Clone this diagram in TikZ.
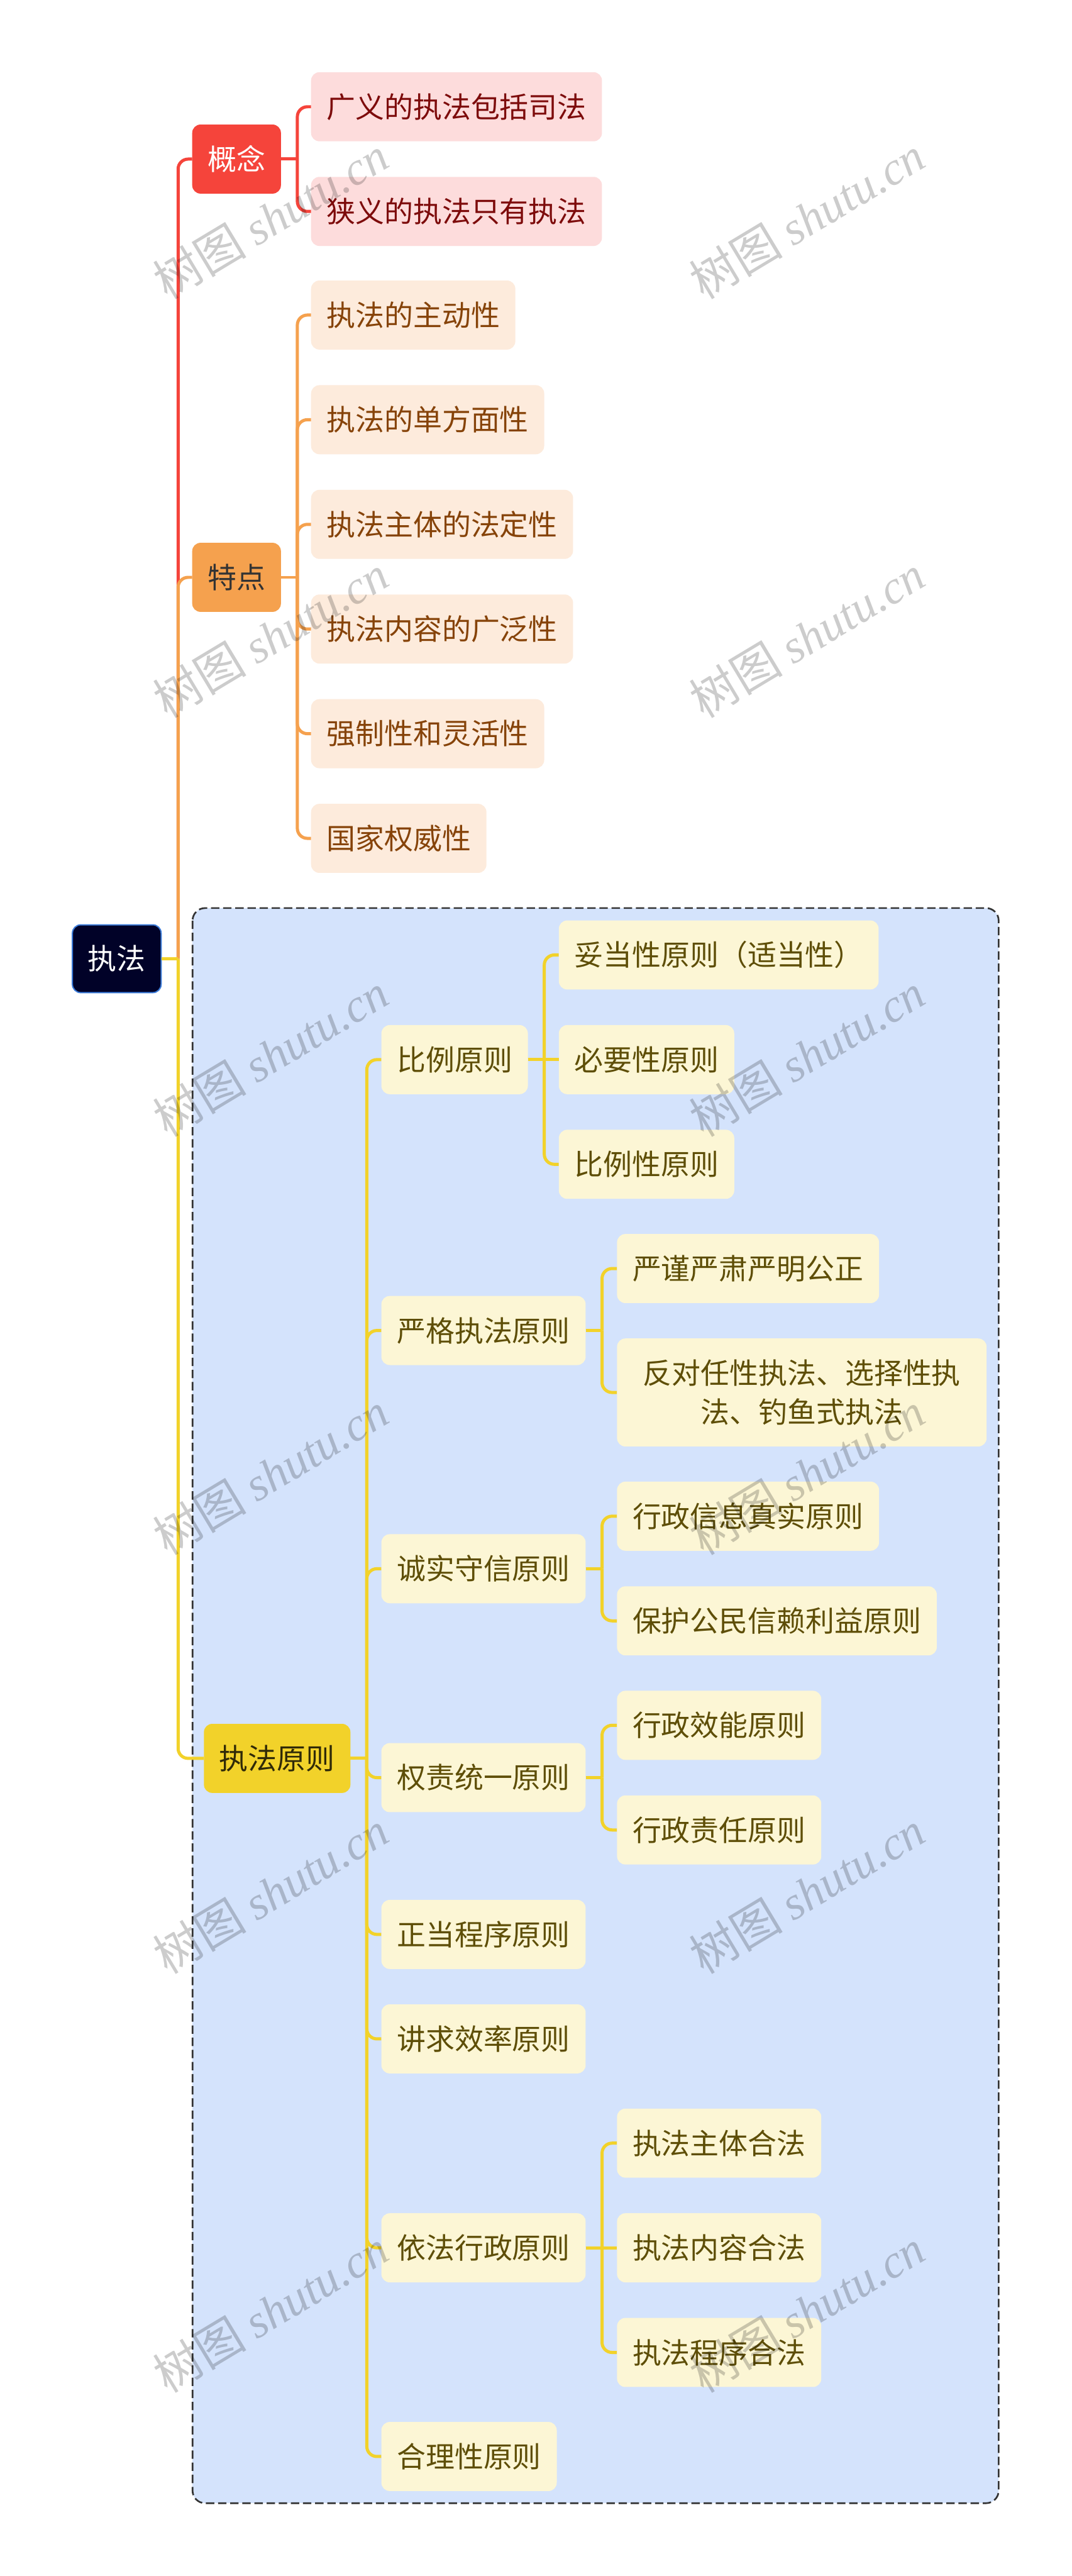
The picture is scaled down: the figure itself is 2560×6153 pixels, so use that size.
\documentclass[tikz,border=0pt]{standalone}
\usepackage{fontspec}
\setmainfont{Noto Sans CJK SC}
\newfontfamily\wmfont{Liberation Serif}
\usetikzlibrary{calc}
\definecolor{cRed}{HTML}{F5443B}
\definecolor{cOrange}{HTML}{F5A14E}
\definecolor{cYellow}{HTML}{F2D22A}
\definecolor{cRoot}{HTML}{010228}
\definecolor{cRootBorder}{HTML}{3B7BD9}
\definecolor{cPink}{HTML}{FDDCDC}
\definecolor{cPinkText}{HTML}{7D0B0B}
\definecolor{cPeach}{HTML}{FDEBDC}
\definecolor{cPeachText}{HTML}{864309}
\definecolor{cCream}{HTML}{FCF6D5}
\definecolor{cCreamText}{HTML}{5E4E07}
\definecolor{cBlue}{HTML}{D4E3FC}
\definecolor{cDash}{HTML}{333333}
\newcommand\tolink[3]{%
  \draw[#1] (#2.east) -- ([xshift=39pt]#2.east);
  \draw[#1,rounded corners=24pt] ([xshift=39pt]#2.east) |- (#3.west);}
\newcommand\tostraight[3]{\draw[#1] (#2.east) -- (#3.west);}
\begin{document}
\begin{tikzpicture}[x=1pt,y=-1pt,
  box/.style={anchor=west, rounded corners=20pt, inner xsep=37pt, inner ysep=0pt,
    minimum height=165pt, font=\fontsize{69pt}{92pt}\selectfont},
  rootbox/.style={box, anchor=center, fill=cRoot, draw=cRootBorder, line width=3pt,
    text=white, minimum width=204pt, minimum height=162pt},
  pinkleaf/.style={box, fill=cPink, text=cPinkText},
  peachleaf/.style={box, fill=cPeach, text=cPeachText},
  creamleaf/.style={box, fill=cCream, text=cCreamText},
  lnR/.style={draw=cRed, line width=7.5pt},
  lnO/.style={draw=cOrange, line width=7.5pt},
  lnY/.style={draw=cYellow, line width=7.5pt},
  wm/.style={rotate=31, text=black, text opacity=0.2, font=\fontsize{112pt}{112pt}\selectfont}]
\useasboundingbox (0,0) rectangle (2560,6153);
\fill[white] (0,0) rectangle (2560,6153);
% group boundary
\draw[draw=cDash, line width=4pt, dash pattern=on 20pt off 9pt, fill=cBlue,
  rounded corners=30pt] (460,2169) rectangle (2386,5979);
% root
\node[rootbox] (root) at (279,2290) {执法};
% level 1
\node[box, fill=cRed, text=white, minimum width=208pt] (gn) at (459,380) {概念};
\node[box, fill=cOrange, text=black!80, minimum width=208pt] (td) at (459,1379) {特点};
\node[box, fill=cYellow, text=black!80!cYellow, minimum width=348pt] (yz) at (487,4200) {执法原则};
% 概念
\node[pinkleaf] (gn1) at (743,255) {广义的执法包括司法};
\node[pinkleaf] (gn2) at (743,505) {狭义的执法只有执法};
% 特点
\node[peachleaf] (td1) at (743,752.5) {执法的主动性};
\node[peachleaf] (td2) at (743,1002.5) {执法的单方面性};
\node[peachleaf] (td3) at (743,1252.5) {执法主体的法定性};
\node[peachleaf] (td4) at (743,1502.5) {执法内容的广泛性};
\node[peachleaf] (td5) at (743,1752.5) {强制性和灵活性};
\node[peachleaf] (td6) at (743,2002.5) {国家权威性};
% 执法原则 children
\node[creamleaf] (pa) at (911,2531) {比例原则};
\node[creamleaf] (pb) at (911,3178) {严格执法原则};
\node[creamleaf] (pc) at (911,3747) {诚实守信原则};
\node[creamleaf] (pd) at (911,4246) {权责统一原则};
\node[creamleaf] (pe) at (911,4620.5) {正当程序原则};
\node[creamleaf] (pf) at (911,4870) {讲求效率原则};
\node[creamleaf] (pg) at (911,5369) {依法行政原则};
\node[creamleaf] (ph) at (911,5867.5) {合理性原则};
% level 3
\node[creamleaf] (pa1) at (1335,2281) {妥当性原则（适当性）};
\node[creamleaf] (pa2) at (1335,2531) {必要性原则};
\node[creamleaf] (pa3) at (1335,2781) {比例性原则};
\node[creamleaf] (pb1) at (1474,3030) {严谨严肃严明公正};
\node[creamleaf, align=center, inner xsep=62pt, minimum height=258pt] (pb2) at (1474,3326)
  {反对任性执法、选择性执\\法、钓鱼式执法};
\node[creamleaf] (pc1) at (1474,3621.5) {行政信息真实原则};
\node[creamleaf] (pc2) at (1474,3871.5) {保护公民信赖利益原则};
\node[creamleaf] (pd1) at (1474,4121) {行政效能原则};
\node[creamleaf] (pd2) at (1474,4371) {行政责任原则};
\node[creamleaf] (pg1) at (1474,5119) {执法主体合法};
\node[creamleaf] (pg2) at (1474,5369) {执法内容合法};
\node[creamleaf] (pg3) at (1474,5619) {执法程序合法};
% connectors
\tolink{lnR}{root}{gn}
\tolink{lnO}{root}{td}
\tolink{lnY}{root}{yz}
\tolink{lnR}{gn}{gn1}
\tolink{lnR}{gn}{gn2}
\foreach \c in {td1,td2,td3,td4,td5,td6}{\tolink{lnO}{td}{\c}}
\foreach \c in {pa,pb,pc,pd,pe,pf,pg,ph}{\tolink{lnY}{yz}{\c}}
\tolink{lnY}{pa}{pa1}
\tostraight{lnY}{pa}{pa2}
\tolink{lnY}{pa}{pa3}
\tolink{lnY}{pb}{pb1}
\tolink{lnY}{pb}{pb2}
\tolink{lnY}{pc}{pc1}
\tolink{lnY}{pc}{pc2}
\tolink{lnY}{pd}{pd1}
\tolink{lnY}{pd}{pd2}
\tolink{lnY}{pg}{pg1}
\tostraight{lnY}{pg}{pg2}
\tolink{lnY}{pg}{pg3}
% watermarks
\foreach \yy in {520,1520,2520,3520,4520,5520}{
  \node[wm] at (646,\yy) {树图 {\wmfont\itshape shutu.cn}};
  \node[wm] at (1928,\yy) {树图 {\wmfont\itshape shutu.cn}};
}
\end{tikzpicture}
\end{document}
